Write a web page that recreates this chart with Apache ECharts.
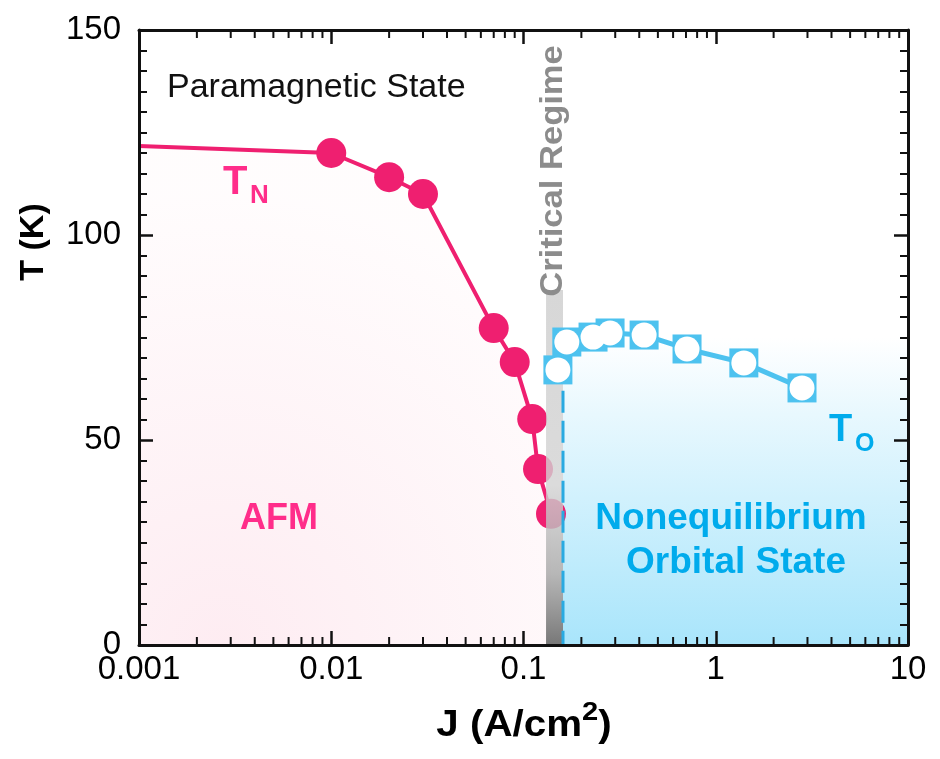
<!DOCTYPE html>
<html>
<head>
<meta charset="utf-8">
<title>T vs J phase diagram</title>
<script src="https://cdn.jsdelivr.net/npm/echarts@6/dist/echarts.min.js"></script>
<style>
  html, body { margin: 0; padding: 0; background: #fff; }
  #chart { width: 940px; height: 759px; }
</style>
</head>
<body>
<div id="chart"></div>
<script>
// ---- data ----
var tnJ = [0.001, 0.01, 0.02, 0.03, 0.07, 0.09, 0.111, 0.119, 0.139]
var tnT = [121.7, 120, 114.1, 110, 77.3, 69, 55.1, 42.9, 32]

var toJ = [0.151, 0.168, 0.23, 0.282, 0.424, 0.709, 1.40, 2.81]
var toT = [67.1, 73.9, 75.1, 76.1, 75.6, 72.2, 68.8, 62.7]

// critical regime band [J from, J to, top T]
var criticalBand = [0.131, 0.1605, 86.6]
// nonequilibrium orbital region [J from, J to, top T]
var orbitalBand = [0.1605, 10, 75]
// dashed boundary [J, top T]
var boundary = [0.1605, 62]

var jLabels = ['0.001', '0.01', '0.1', '1', '10']
var tLabels = ['0', '50', '100', '150']
var jMinorTicks = [
  0.002, 0.003, 0.004, 0.005, 0.006, 0.007, 0.008, 0.009,
  0.02, 0.03, 0.04, 0.05, 0.06, 0.07, 0.08, 0.09,
  0.2, 0.3, 0.4, 0.5, 0.6, 0.7, 0.8, 0.9,
  2, 3, 4, 5, 6, 7, 8, 9
]

var pink = '#ef1f70'
var pinkText = '#ff2d8a'
var blue = '#4dc2ef'
var blueText = '#00abec'
var axisColor = '#111'

var tnData = tnJ.map(function (j, i) {
  var item = { value: [j, tnT[i]] }
  if (i === 0) item.symbol = 'none'
  return item
})
var toData = toJ.map(function (j, i) { return [j, toT[i]] })

function bandItem(fill) {
  return function (params, api) {
    var p0 = api.coord([api.value(0), api.value(2)])
    var p1 = api.coord([api.value(1), 0])
    return {
      type: 'rect',
      shape: { x: p0[0], y: p0[1], width: p1[0] - p0[0], height: p1[1] - p0[1] },
      style: { fill: fill }
    }
  }
}

var chart = echarts.init(document.getElementById('chart'))

var axisLine = { show: true, onZero: false, lineStyle: { color: axisColor, width: 3 } }
var majorTick = { show: true, inside: true, length: 14, lineStyle: { color: axisColor, width: 2.5 } }
var minorTick = { show: true, splitNumber: 10, length: 8, lineStyle: { color: axisColor, width: 2 } }

var option = {
  animation: false,
  backgroundColor: '#fff',
  grid: { left: 139, right: 32, top: 30, bottom: 114 },
  xAxis: [
    {
      type: 'log', logBase: 10, min: 0.001, max: 10, z: 20,
      axisLine: axisLine, axisTick: majorTick,
      splitLine: { show: false },
      axisLabel: {
        margin: 8, color: '#000', fontSize: 33, fontFamily: 'Liberation Sans',
        formatter: function (v, i) { return jLabels[i] }
      }
    },
    {
      type: 'log', logBase: 10, min: 0.001, max: 10, position: 'top', z: 20,
      axisLine: axisLine, axisTick: majorTick,
      splitLine: { show: false }, axisLabel: { show: false }
    }
  ],
  yAxis: [
    {
      type: 'value', min: 0, max: 150, interval: 50, z: 20,
      axisLine: axisLine, axisTick: majorTick, minorTick: minorTick,
      splitLine: { show: false }, minorSplitLine: { show: false },
      axisLabel: {
        margin: 18, color: '#000', fontSize: 33, fontFamily: 'Liberation Sans',
        formatter: function (v, i) { return tLabels[i] }
      }
    },
    {
      type: 'value', min: 0, max: 150, interval: 50, position: 'right', z: 20,
      axisLine: axisLine, axisTick: majorTick, minorTick: minorTick,
      splitLine: { show: false }, minorSplitLine: { show: false },
      axisLabel: { show: false }
    }
  ],
  series: [
    {
      // nonequilibrium orbital region
      type: 'custom', z: 1, silent: true,
      renderItem: bandItem(new echarts.graphic.LinearGradient(0, 0, 0, 1, [
        { offset: 0, color: '#ffffff' },
        { offset: 0.25, color: '#e8f8fe' },
        { offset: 1, color: '#a9e5fb' }
      ])),
      encode: { x: [0, 1], y: 2 },
      data: [orbitalBand]
    },
    {
      name: 'TN', type: 'line', z: 3,
      data: tnData,
      symbol: 'circle', symbolSize: 30,
      itemStyle: { color: pink },
      lineStyle: { color: pink, width: 4 },
      areaStyle: {
        origin: 'start',
        color: {
          type: 'radial', x: 0.2, y: 1, r: 1.1,
          colorStops: [
            { offset: 0, color: '#fde4ec' },
            { offset: 1, color: '#fffbfc' }
          ]
        }
      }
    },
    {
      // critical regime band
      type: 'custom', z: 4, silent: true,
      renderItem: bandItem(new echarts.graphic.LinearGradient(0, 0, 0, 1, [
        { offset: 0, color: 'rgba(205,205,205,0.8)' },
        { offset: 0.55, color: 'rgba(210,210,210,0.8)' },
        { offset: 0.8, color: 'rgba(170,170,170,0.85)' },
        { offset: 1, color: 'rgba(112,112,112,0.95)' }
      ])),
      encode: { x: [0, 1], y: 2 },
      data: [criticalBand]
    },
    {
      // dashed boundary of the orbital state
      type: 'custom', z: 5, silent: true,
      renderItem: function (params, api) {
        var p0 = api.coord([api.value(0), api.value(1)])
        var p1 = api.coord([api.value(0), 0])
        return {
          type: 'line',
          shape: { x1: p0[0], y1: p0[1], x2: p1[0], y2: p1[1] },
          style: { stroke: '#29aae1', lineWidth: 3, lineDash: [22, 8] }
        }
      },
      encode: { x: 0, y: 1 },
      data: [boundary]
    },
    {
      name: 'TO', type: 'line', z: 6,
      data: toData,
      symbol: 'rect', symbolSize: 29,
      itemStyle: { color: blue },
      lineStyle: { color: blue, width: 5 }
    },
    {
      type: 'scatter', z: 7, silent: true,
      data: toData,
      symbol: 'circle', symbolSize: 25,
      itemStyle: { color: '#ffffff', opacity: 1 }
    },
    {
      // log minor ticks on bottom and top axes
      type: 'custom', z: 8, silent: true,
      renderItem: function (params, api) {
        var b = api.coord([api.value(0), 0])
        var t = api.coord([api.value(0), 150])
        var st = { stroke: axisColor, lineWidth: 2 }
        return {
          type: 'group',
          children: [
            { type: 'line', shape: { x1: b[0], y1: b[1], x2: b[0], y2: b[1] - 8 }, style: st },
            { type: 'line', shape: { x1: t[0], y1: t[1], x2: t[0], y2: t[1] + 8 }, style: st }
          ]
        }
      },
      encode: { x: 0 },
      data: jMinorTicks.map(function (v) { return [v, 0] })
    }
  ],
  graphic: [
    {
      type: 'text', x: 167, y: 88, z: 100,
      style: { text: 'Paramagnetic State', font: '34px "Liberation Sans"', fill: '#111', align: 'left', verticalAlign: 'middle' }
    },
    {
      type: 'text', x: 223, y: 183, z: 100,
      style: { text: 'T', font: 'bold 40px "Liberation Sans"', fill: pinkText, align: 'left', verticalAlign: 'middle' }
    },
    {
      type: 'text', x: 250, y: 196, z: 100,
      style: { text: 'N', font: 'bold 26px "Liberation Sans"', fill: pinkText, align: 'left', verticalAlign: 'middle' }
    },
    {
      type: 'text', x: 240, y: 519, z: 100,
      style: { text: 'AFM', font: 'bold 36px "Liberation Sans"', fill: pinkText, align: 'left', verticalAlign: 'middle' }
    },
    {
      type: 'text', x: 829, y: 431, z: 100,
      style: { text: 'T', font: 'bold 38px "Liberation Sans"', fill: blueText, align: 'left', verticalAlign: 'middle' }
    },
    {
      type: 'text', x: 855, y: 444, z: 100,
      style: { text: 'O', font: 'bold 25px "Liberation Sans"', fill: blueText, align: 'left', verticalAlign: 'middle' }
    },
    {
      type: 'text', x: 731, y: 519, z: 100,
      style: { text: 'Nonequilibrium', font: 'bold 37px "Liberation Sans"', fill: blueText, align: 'center', verticalAlign: 'middle' }
    },
    {
      type: 'text', x: 736, y: 563, z: 100,
      style: { text: 'Orbital State', font: 'bold 37px "Liberation Sans"', fill: blueText, align: 'center', verticalAlign: 'middle' }
    },
    {
      type: 'text', x: 553, y: 171, z: 100, rotation: Math.PI / 2, scaleX: 1.08,
      style: { text: 'Critical Regime', font: 'bold 32px "Liberation Sans"', fill: '#8c8c8c', align: 'center', verticalAlign: 'middle' }
    },
    {
      type: 'text', x: 34, y: 242, z: 100, rotation: Math.PI / 2,
      style: { text: 'T (K)', font: 'bold 34px "Liberation Sans"', fill: '#000', align: 'center', verticalAlign: 'middle' }
    },
    {
      type: 'text', x: 524, y: 722, z: 100, scaleX: 1.12,
      style: {
        text: '{m|J (A/cm}{s|2}{m|)}',
        align: 'center', verticalAlign: 'middle', fill: '#000',
        rich: {
          m: { font: 'bold 36px "Liberation Sans"', fill: '#000', verticalAlign: 'bottom', lineHeight: 44 },
          s: { font: 'bold 26px "Liberation Sans"', fill: '#000', verticalAlign: 'top', lineHeight: 44 }
        }
      }
    }
  ]
}

chart.setOption(option)
</script>
</body>
</html>
